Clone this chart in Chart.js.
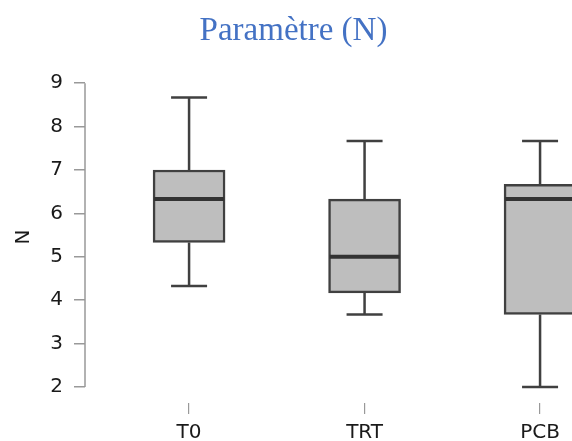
<!DOCTYPE html>
<html>
<head>
<meta charset="utf-8">
<script src="https://cdn.jsdelivr.net/npm/chart.js@4/dist/chart.umd.min.js"></script>
<style>
  html, body { margin: 0; padding: 0; background: #ffffff; overflow: hidden; }
  #wrap { position: relative; width: 572px; height: 441px; }
  #title { position: absolute; left: 0; top: 13px; width: 587px; text-align: center;
           font-family: "Liberation Serif", "Times New Roman", serif; font-size: 33px;
           line-height: 32px; color: #4472C4; white-space: nowrap; }
  canvas { position: absolute; left: 0; top: 0; }
</style>
</head>
<body>
<div id="wrap">
  <canvas id="c" width="572" height="441"></canvas>
  <div id="title">Paramètre (N)</div>
</div>
<script>
const categories = ['T0', 'TRT', 'PCB'];
const whiskerLow  = [4.33, 3.67, 2.00];
const q1          = [5.33, 4.17, 3.67];
const median      = [6.33, 5.00, 6.33];
const q3          = [7.00, 6.33, 6.67];
const whiskerHigh = [8.67, 7.67, 7.67];
const yTicks = [2, 3, 4, 5, 6, 7, 8, 9];
const yLabel = 'N';

const positions = categories.map((_, i) => i + 1);
const boxData = positions.map((p, i) => ({ x: p, y: [q1[i], q3[i]] }));

const boxExtras = {
  id: 'boxExtras',
  beforeDatasetsDraw(chart) {
    const ctx = chart.ctx;
    const xs = chart.scales.x, ys = chart.scales.y;
    const meta = chart.getDatasetMeta(0);
    ctx.save();
    ctx.strokeStyle = '#404040';
    ctx.lineWidth = 2.5;
    ctx.lineCap = 'butt';
    positions.forEach((p, i) => {
      const x = xs.getPixelForValue(p);
      const w = meta.data[i].width;
      const capHalf = w / 4;
      const yHi = ys.getPixelForValue(whiskerHigh[i]);
      const yQ3 = ys.getPixelForValue(q3[i]);
      const yLo = ys.getPixelForValue(whiskerLow[i]);
      const yQ1 = ys.getPixelForValue(q1[i]);
      ctx.beginPath();
      ctx.moveTo(x, yHi); ctx.lineTo(x, yQ3);
      ctx.moveTo(x, yQ1); ctx.lineTo(x, yLo);
      ctx.moveTo(x - capHalf, yHi); ctx.lineTo(x + capHalf, yHi);
      ctx.moveTo(x - capHalf, yLo); ctx.lineTo(x + capHalf, yLo);
      ctx.stroke();
    });
    ctx.restore();
  },
  afterDatasetsDraw(chart) {
    const ctx = chart.ctx;
    const xs = chart.scales.x, ys = chart.scales.y;
    const meta = chart.getDatasetMeta(0);
    ctx.save();
    ctx.strokeStyle = '#333333';
    ctx.lineWidth = 4;
    positions.forEach((p, i) => {
      const x = xs.getPixelForValue(p);
      const w = meta.data[i].width;
      const y = ys.getPixelForValue(median[i]);
      ctx.beginPath();
      ctx.moveTo(x - w / 2 + 1, y); ctx.lineTo(x + w / 2 - 1, y);
      ctx.stroke();
    });
    // y axis line from first to last tick
    const xa = chart.chartArea.left;
    ctx.strokeStyle = '#999999';
    ctx.lineWidth = 1.5;
    ctx.beginPath();
    ctx.moveTo(xa, ys.getPixelForValue(yTicks[0]));
    ctx.lineTo(xa, ys.getPixelForValue(yTicks[yTicks.length - 1]));
    ctx.stroke();
    ctx.restore();
  }
};

new Chart(document.getElementById('c'), {
  type: 'bar',
  data: {
    datasets: [{
      data: boxData,
      backgroundColor: '#BEBEBE',
      borderColor: '#404040',
      borderWidth: 2.5,
      borderSkipped: false,
      barThickness: 72
    }]
  },
  plugins: [boxExtras],
  options: {
    responsive: false,
    animation: false,
    devicePixelRatio: 1,
    layout: { padding: { top: 71, left: 0, right: 0, bottom: 0 } },
    plugins: { legend: { display: false }, tooltip: { enabled: false }, title: { display: false } },
    scales: {
      x: {
        type: 'linear',
        offset: false,
        min: 0.407,
        max: 3.182,
        afterBuildTicks: (s) => { s.ticks = positions.map(v => ({ value: v })); },
        afterFit: (s) => { s.height = 38; },
        border: { display: false },
        grid: { offset: false, drawOnChartArea: false, drawTicks: true, tickLength: 11, color: '#999999', lineWidth: 1.2 },
        ticks: {
          padding: 7,
          maxRotation: 0,
          autoSkip: false,
          color: '#1a1a1a',
          font: { family: 'DejaVu Sans', size: 20 },
          callback: (v) => categories[v - 1]
        }
      },
      y: {
        type: 'linear',
        min: 1.632,
        max: 9.28,
        afterBuildTicks: (s) => { s.ticks = yTicks.map(v => ({ value: v })); },
        afterFit: (s) => { s.width = 85; },
        border: { display: false },
        grid: { drawOnChartArea: false, drawTicks: true, tickLength: 11, color: '#999999', lineWidth: 1.5 },
        ticks: {
          padding: 11,
          color: '#1a1a1a',
          font: { family: 'DejaVu Sans', size: 20 },
          callback: (v) => String(v)
        },
        title: {
          display: true,
          text: yLabel,
          color: '#1a1a1a',
          font: { family: 'DejaVu Sans', size: 20 },
          padding: { top: 12, bottom: 0 }
        }
      }
    }
  }
});
</script>
</body>
</html>
